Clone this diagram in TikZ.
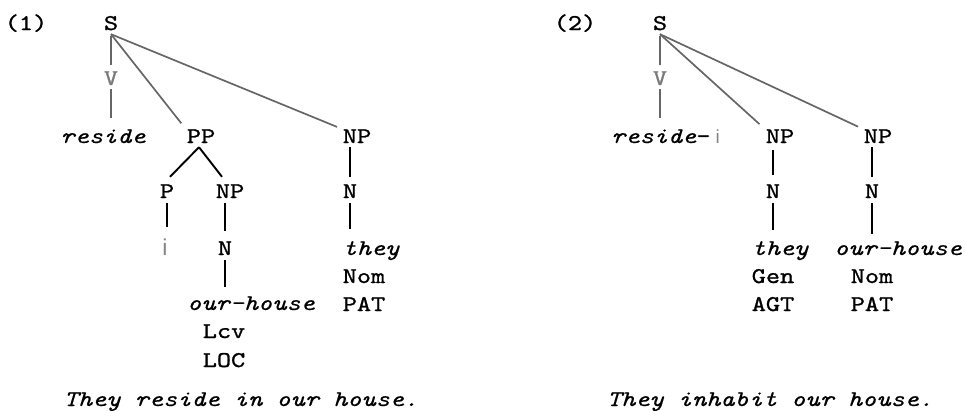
\documentclass[tikz,border=0pt]{standalone}
\usepackage{fontspec}
\usetikzlibrary{calc}
\setmonofont{lmmono10-regular}[Extension=.otf, ItalicFont=lmmono10-italic,
  FakeStretch=1.2, UprightFeatures={FakeBold=1.1}, ItalicFeatures={FakeBold=0.4}]
\newfontfamily\thinsans{Liberation Sans}
\definecolor{branchgrey}{HTML}{666666}
\definecolor{labelgrey}{HTML}{7A7A7A}
\definecolor{igrey}{HTML}{858585}
\newcommand\greyi[1]{{\thinsans\fontsize{#1}{#1}\selectfont\color{igrey}i}}
\begin{document}
\begin{tikzpicture}[x=1pt,y=-1pt,
  every node/.style={font=\ttfamily\fontsize{22.5}{22.5}\selectfont},
  lab/.style={anchor=base, inner sep=1pt, text height=13pt, text depth=3pt},
  it/.style={lab, font=\ttfamily\itshape\fontsize{22.5}{22.5}\selectfont},
  upper/.style={draw=branchgrey, line width=1.7pt},
  lower/.style={draw=black, line width=1.9pt},
]
\useasboundingbox (0,0) rectangle (965,410);

% ---------- tree (1) ----------
\node[lab] (num1) at (26,30) {(1)};
\node[lab] (s1) at (111,30) {S};
\node[lab, text=labelgrey] (v1) at (111,85) {V};
\node[it] (res1) at (103,143) {reside};
\node[lab] (pp1) at (201,143) {PP};
\node[lab] (np1b) at (357,143) {NP};
\node[lab] (p1) at (167,198) {P};
\node[lab] (np1a) at (230,198) {NP};
\node[lab] (n1b) at (350,198) {N};
\node[lab] (i1) at (165,255) {\greyi{23}};
\node[lab] (n1a) at (225,255) {N};
\node[it] (they1) at (371,255) {they};
\node[lab] (nom1) at (364,283) {Nom};
\node[it] (house1) at (251,310) {our-house};
\node[lab] (pat1) at (364,311) {PAT};
\node[lab] (lcv1) at (224,338) {Lcv};
\node[lab] (loc1) at (224,367) {LOC};
\node[it] (sent1) at (241,406) {They reside in our house.};

\draw[upper, shorten <=2pt, shorten >=6pt] (s1.south) -- (v1.north);
\draw[upper, shorten <=0pt, shorten >=11pt] (v1.south) -- (v1.south |- res1.north);
\draw[upper, shorten <=0pt, shorten >=7pt] (s1.south) -- (pp1.north west);
\draw[upper, shorten <=0pt, shorten >=5pt] (s1.south) -- (np1b.north west);
\draw[lower] ($(pp1.south)+(-2,0)$) -- ($(p1.north)+(3,-7)$);
\draw[lower] ($(pp1.south)+(-2,0)$) -- ($(np1a.north)+(-8,-7)$);
\draw[lower, shorten <=1pt, shorten >=14pt] (p1.south) -- (p1.south |- i1.north);
\draw[lower, shorten <=1pt, shorten >=10pt] (np1a.south -| n1a.north) -- (n1a.north);
\draw[lower, shorten <=1pt, shorten >=9pt] (n1a.south) -- (n1a.south |- house1.north);
\draw[lower, shorten <=0pt, shorten >=7pt] (np1b.south -| n1b.north) -- (n1b.north);
\draw[lower, shorten <=1pt, shorten >=12pt] (n1b.south) -- (n1b.south |- they1.north);

% ---------- tree (2) ----------
\node[lab] (num2) at (575,30) {(2)};
\node[lab] (s2) at (660,30) {S};
\node[lab, text=labelgrey] (v2) at (660,85) {V};
\node[lab, anchor=base west] (res2) at (610,143) {\textit{reside}-\hspace{5pt}\greyi{19}};
\node[lab] (np2a) at (780,143) {NP};
\node[lab] (np2b) at (878,143) {NP};
\node[lab] (n2a) at (773,198) {N};
\node[lab] (n2b) at (872,198) {N};
\node[it] (they2) at (780,255) {they};
\node[it] (house2) at (898,255) {our-house};
\node[lab] (gen2) at (773,283) {Gen};
\node[lab] (nom2) at (872,283) {Nom};
\node[lab] (agt2) at (773,311) {AGT};
\node[lab] (pat2) at (872,311) {PAT};
\node[it] (sent2) at (770,406) {They inhabit our house.};

\draw[upper, shorten <=2pt, shorten >=6pt] (s2.south) -- (v2.north);
\draw[upper, shorten <=0pt, shorten >=11pt] (v2.south -| s2.south) -- (s2.south |- res2.north);
\draw[upper, shorten <=0pt, shorten >=7pt] (s2.south) -- (np2a.north west);
\draw[upper, shorten <=0pt, shorten >=5pt] (s2.south) -- (np2b.north west);
\draw[lower, shorten <=3pt, shorten >=9pt] (np2a.south -| n2a.north) -- (n2a.north);
\draw[lower, shorten <=1pt, shorten >=11pt] (n2a.south) -- (n2a.south |- they2.north);
\draw[lower, shorten <=0pt, shorten >=7pt] (np2b.south -| n2b.north) -- (n2b.north);
\draw[lower, shorten <=1pt, shorten >=7pt] (n2b.south) -- (n2b.south |- house2.north);
\end{tikzpicture}
\end{document}
